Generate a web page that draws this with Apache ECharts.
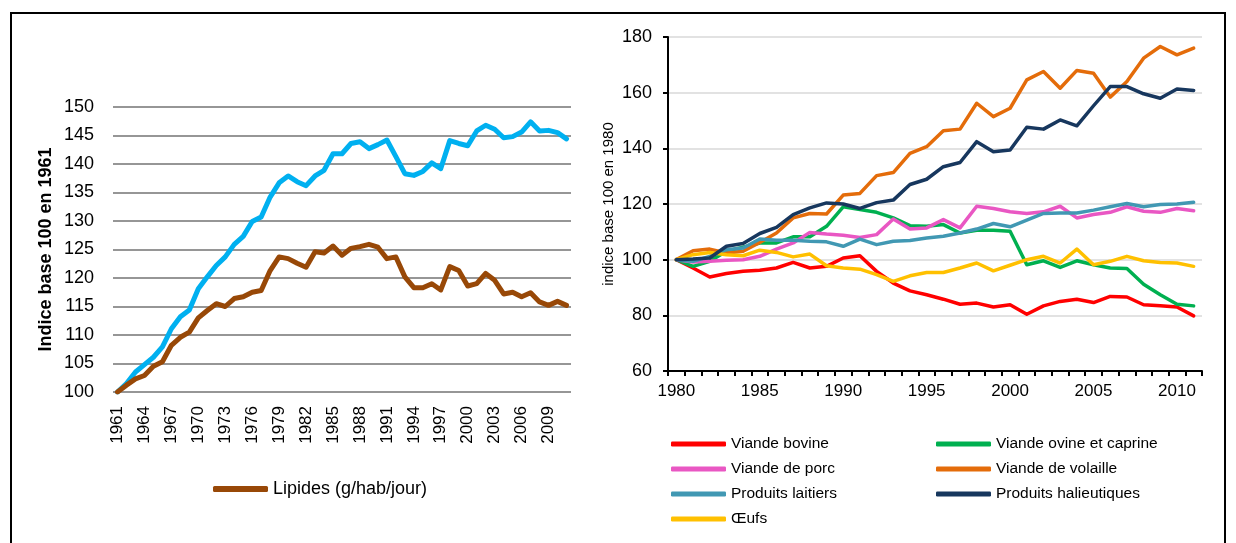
<!DOCTYPE html>
<html>
<head>
<meta charset="utf-8">
<script src="https://cdn.jsdelivr.net/npm/echarts@6/dist/echarts.min.js"></script>
<style>
  html, body { margin: 0; padding: 0; background: #fff; }
  #chart { width: 1236px; height: 543px; }
</style>
</head>
<body>
<div id="chart"></div>
<script>
// --- données : panneau gauche (base 100 en 1961)
const anneesGauche = [];
for (let a = 1961; a <= 2011; a++) anneesGauche.push(String(a));

const proteines = [100, 101.5, 103.5, 104.8, 106.1, 107.9, 111.1, 113.2, 114.4, 118.1,
  120.2, 122.2, 123.7, 125.9, 127.3, 129.9, 130.7, 134.2, 136.7, 137.9,
  136.9, 136.2, 137.9, 138.9, 141.8, 141.8, 143.6, 143.9, 142.7, 143.4,
  144.2, 141.3, 138.3, 138.0, 138.7, 140.2, 139.2, 144.1, 143.6, 143.2,
  145.8, 146.8, 146.1, 144.6, 144.8, 145.6, 147.4, 145.8, 145.9, 145.5,
  144.4];
const lipides = [100, 101.2, 102.3, 102.9, 104.5, 105.3, 108.2, 109.6, 110.5, 113.0,
  114.3, 115.5, 115.0, 116.4, 116.7, 117.5, 117.8, 121.3, 123.7, 123.4,
  122.6, 121.9, 124.6, 124.4, 125.6, 124.0, 125.2, 125.5, 125.9, 125.4,
  123.4, 123.7, 120.2, 118.3, 118.3, 119.0, 117.9, 122.0, 121.3, 118.6,
  119.0, 120.8, 119.6, 117.2, 117.5, 116.7, 117.4, 115.8, 115.2, 115.9,
  115.2];

// --- données : panneau droit (base 100 en 1980)
const anneesDroite = [];
for (let a = 1980; a <= 2011; a++) anneesDroite.push(String(a));

const bovine = [100, 97, 93.8, 95, 95.8, 96.2, 97, 99, 97, 97.6,
  100.6, 101.4, 95.8, 91.6, 88.8, 87.4, 85.8, 84, 84.4, 83,
  83.8, 80.4, 83.4, 85, 85.8, 84.6, 86.8, 86.6, 83.8, 83.4,
  83, 79.8];
const ovine = [100, 97.6, 99.4, 103, 104.5, 106, 106, 108.2, 108.2, 112,
  119, 118, 117, 115, 112.2, 112, 112.6, 109.6, 110.6, 110.6,
  110.2, 98.2, 99.6, 97.2, 99.6, 98.2, 97, 96.8, 91.2, 87.4,
  84, 83.4];
const porc = [100, 99.2, 99.4, 99.8, 100, 101.2, 103.8, 106, 109.8, 109.2,
  108.8, 108, 109, 114.6, 111, 111.4, 114.4, 111.4, 119.2, 118.4,
  117.2, 116.6, 117.2, 119.2, 115, 116.2, 117, 119, 117.4, 117,
  118.4, 117.6];
const volaille = [100, 103.2, 103.8, 102.4, 103, 106.2, 109.6, 115, 116.6, 116.4,
  123.2, 123.8, 130.2, 131.3, 138.2, 140.6, 146.3, 146.9, 156.2, 151.4,
  154.4, 164.6, 167.6, 161.6, 168, 167, 158.4, 164, 172.4, 176.6,
  173.6, 176];
const laitiers = [100, 99.4, 101.2, 103.6, 104.2, 107.4, 107, 107, 106.6, 106.4,
  104.8, 107.4, 105.4, 106.6, 106.9, 107.8, 108.4, 109.6, 111, 113,
  111.8, 114.2, 116.6, 116.8, 116.8, 117.8, 119, 120.2, 119, 119.8,
  120, 120.6];
const halieutiques = [100, 100.2, 100.6, 104.8, 105.8, 109.4, 111.6, 116.2, 118.6, 120.4,
  120, 118.4, 120.5, 121.4, 127, 128.9, 133.4, 134.9, 142.4, 138.8,
  139.4, 147.6, 146.9, 150.2, 148.1, 155.3, 162.2, 162.2, 159.6, 158,
  161.3, 160.8];
const oeufs = [100, 101.8, 102.6, 101.8, 101.4, 103.4, 102.6, 101, 102, 97.8,
  97, 96.6, 94.6, 92.2, 94.2, 95.4, 95.4, 97, 98.8, 96,
  98, 100, 101.2, 98.8, 103.8, 98.2, 99.4, 101.2, 99.6, 99,
  98.8, 97.6];

const police = '"Liberation Sans", Arial, sans-serif';

const chart = echarts.init(document.getElementById('chart'));

function ligne(nom, data, couleur, idx, largeur) {
  return {
    name: nom,
    type: 'line',
    xAxisIndex: idx,
    yAxisIndex: idx,
    data: data,
    symbol: 'none',
    lineStyle: { color: couleur, width: largeur, join: 'round', cap: 'round' },
    itemStyle: { color: couleur },
    emphasis: { disabled: true }
  };
}

const option = {
  animation: false,
  textStyle: { fontFamily: police, color: '#000' },
  graphic: [
    {
      type: 'rect',
      shape: { x: 11, y: 13, width: 1214, height: 545 },
      style: { fill: null, stroke: '#000', lineWidth: 2 },
      silent: true
    }
  ],
  grid: [
    { left: 113, right: 665, top: 107, bottom: 151 },
    { left: 668, right: 34, top: 37, bottom: 172 }
  ],
  legend: [
    {
      data: ['Lipides (g/hab/jour)'],
      left: 208, top: 475,
      icon: 'roundRect',
      itemWidth: 55, itemHeight: 6,
      textStyle: { fontFamily: police, fontSize: 18, color: '#000' }
    },
    {
      data: ['Viande bovine', 'Viande de porc', 'Produits laitiers', 'Œufs'],
      orient: 'vertical',
      left: 666, top: 431,
      icon: 'roundRect',
      itemWidth: 55, itemHeight: 5, itemGap: 9,
      textStyle: { fontFamily: police, fontSize: 15.5, color: '#000' }
    },
    {
      data: ['Viande ovine et caprine', 'Viande de volaille', 'Produits halieutiques'],
      orient: 'vertical',
      left: 931, top: 431,
      icon: 'roundRect',
      itemWidth: 55, itemHeight: 5, itemGap: 9,
      textStyle: { fontFamily: police, fontSize: 15.5, color: '#000' }
    }
  ],
  xAxis: [
    {
      type: 'category',
      gridIndex: 0,
      data: anneesGauche,
      boundaryGap: true,
      axisLine: { show: false },
      axisTick: { show: false },
      axisLabel: { interval: 2, rotate: 90, margin: 14, fontSize: 17, fontFamily: police, color: '#000' }
    },
    {
      type: 'category',
      gridIndex: 1,
      data: anneesDroite,
      boundaryGap: true,
      axisLine: { show: true, lineStyle: { color: '#000', width: 2 } },
      axisTick: { show: true, interval: 0, length: 5, lineStyle: { color: '#000', width: 2 } },
      axisLabel: { interval: 4, margin: 12, fontSize: 17, fontFamily: police, color: '#000' }
    }
  ],
  yAxis: [
    {
      type: 'value',
      gridIndex: 0,
      min: 100, max: 150, interval: 5,
      name: 'Indice base 100 en 1961',
      nameLocation: 'middle',
      nameGap: 58,
      nameTextStyle: { fontFamily: police, fontSize: 18, fontWeight: 'bold', color: '#000' },
      axisLine: { show: false },
      axisTick: { show: false },
      axisLabel: { margin: 19, fontSize: 18, fontFamily: police, color: '#000' },
      splitLine: { lineStyle: { color: '#969696', width: 2 } }
    },
    {
      type: 'value',
      gridIndex: 1,
      min: 60, max: 180, interval: 20,
      name: 'indice base 100 en 1980',
      nameLocation: 'middle',
      nameGap: 52,
      nameTextStyle: { fontFamily: police, fontSize: 15, color: '#000' },
      axisLine: { show: true, lineStyle: { color: '#000', width: 2 } },
      axisTick: { show: true, length: 5, lineStyle: { color: '#000', width: 2 } },
      axisLabel: { margin: 16, fontSize: 18, fontFamily: police, color: '#000' },
      splitLine: { lineStyle: { color: '#d9d9d9', width: 1.5 } }
    }
  ],
  series: [
    ligne('Protéines (g/hab/jour)', proteines, '#00b0f0', 0, 5),
    ligne('Lipides (g/hab/jour)', lipides, '#984807', 0, 5),
    ligne('Viande bovine', bovine, '#ff0000', 1, 3.5),
    ligne('Viande ovine et caprine', ovine, '#00b050', 1, 3.5),
    ligne('Viande de porc', porc, '#e957c3', 1, 3.5),
    ligne('Viande de volaille', volaille, '#e46c0a', 1, 3.5),
    ligne('Produits laitiers', laitiers, '#4198b3', 1, 3.5),
    ligne('Œufs', oeufs, '#ffc000', 1, 3.5),
    ligne('Produits halieutiques', halieutiques, '#17375e', 1, 3.5)
  ]
};

chart.setOption(option);
</script>
</body>
</html>
